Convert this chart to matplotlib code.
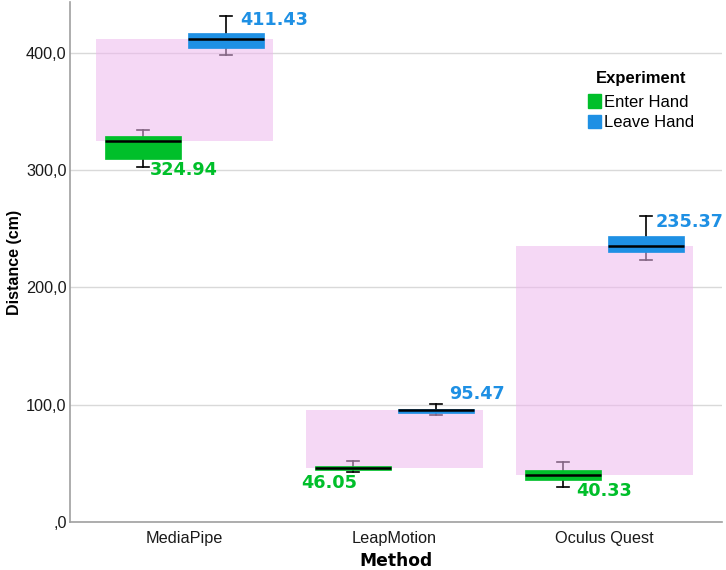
import matplotlib
matplotlib.use("Agg")
import matplotlib.pyplot as plt
from matplotlib.patches import Patch
from matplotlib.ticker import FuncFormatter

# ---- data ----
methods = ["MediaPipe", "LeapMotion", "Oculus Quest"]
experiments = ["Enter Hand", "Leave Hand"]

enter_med = [324.94, 46.05, 40.33]
enter_q1 = [308.9, 44.6, 35.8]
enter_q3 = [328.5, 48.0, 44.6]
enter_lo = [302.8, 42.6, 30.1]
enter_hi = [333.6, 52.0, 51.4]

leave_med = [411.43, 95.47, 235.37]
leave_q1 = [404.1, 93.4, 229.8]
leave_q3 = [416.9, 96.3, 244.1]
leave_lo = [397.8, 91.2, 223.0]
leave_hi = [431.0, 101.1, 261.1]

y_ticks = [0, 100, 200, 300, 400]

# ---- style ----
GREEN = "#00BF2A"
BLUE = "#1E90E4"
PINK = "#EEB8EE"

fig = plt.figure(figsize=(7.26, 5.70), dpi=100)
ax = fig.add_axes([69.5 / 726, 1 - 522.3 / 570, (722 - 69.5) / 726, (522.3 - 2) / 570])

off = 0.198
bw = 0.362

def stats(med, q1, q3, lo, hi):
    return [dict(med=m, q1=a, q3=b, whislo=l, whishi=h, fliers=[])
            for m, a, b, l, h in zip(med, q1, q3, lo, hi)]

xs = list(range(len(methods)))
pos_e = [x - off for x in xs]
pos_l = [x + off for x in xs]

common = dict(widths=bw, patch_artist=True, showfliers=False, manage_ticks=False,
              whiskerprops=dict(color="black", lw=1.2, zorder=1),
              capprops=dict(color="black", lw=1.2, zorder=1),
              medianprops=dict(color="black", lw=1.8, zorder=4))

be = ax.bxp(stats(enter_med, enter_q1, enter_q3, enter_lo, enter_hi), positions=pos_e,
            boxprops=dict(facecolor=GREEN, edgecolor=GREEN, lw=0.5, zorder=3), **common)
bl = ax.bxp(stats(leave_med, leave_q1, leave_q3, leave_lo, leave_hi), positions=pos_l,
            boxprops=dict(facecolor=BLUE, edgecolor=BLUE, lw=0.5, zorder=3), **common)
for art in be["caps"] + bl["caps"]:
    xd = art.get_xdata()
    c = (xd[0] + xd[1]) / 2
    art.set_xdata([c - 0.027, c + 0.027])

# pink band between medians
ax.bar(xs, [l - e for l, e in zip(leave_med, enter_med)], bottom=enter_med,
       width=0.84, color=PINK, alpha=0.55, zorder=2, linewidth=0)

# value labels (offsets in pixels -> points)
px = 0.72
lab_e_off = [(7, -3, "left"), (-24, -11, "center"), (13.5, -4, "left")]
lab_l_off = [(14, -4, "left"), (13, 10, "left"), (10, -6, "left")]
for i in xs:
    dx, dy, ha = lab_e_off[i]
    ax.annotate(f"{enter_med[i]:.2f}", (pos_e[i], enter_lo[i]), xytext=(dx * px, dy * px),
                textcoords="offset points", ha=ha, va="center", color=GREEN,
                fontsize=12.7, fontweight="bold", family="DejaVu Sans", zorder=5)
    dx, dy, ha = lab_l_off[i]
    ax.annotate(f"{leave_med[i]:.2f}", (pos_l[i], leave_hi[i]), xytext=(dx * px, dy * px),
                textcoords="offset points", ha=ha, va="center", color=BLUE,
                fontsize=12.7, fontweight="bold", family="DejaVu Sans", zorder=5)

ax.set_xlim(-0.548, 2.56)
ax.set_ylim(0, 443)
ax.set_yticks(y_ticks)
ax.yaxis.set_major_formatter(FuncFormatter(
    lambda v, p: ",0" if v == 0 else f"{v:.1f}".replace(".", ",")))
ax.set_xticks(xs)
ax.set_xticklabels(methods)
ax.tick_params(axis="both", length=0, labelsize=11.7, colors="#1A1A1A")
ax.tick_params(axis="x", pad=6)
ax.tick_params(axis="y", pad=2)
for lab in ax.get_xticklabels() + ax.get_yticklabels():
    lab.set_family("Liberation Sans")

ax.grid(axis="y", color="#D9D9D9", lw=1, zorder=0)
ax.set_axisbelow(True)
for s in ["top", "right"]:
    ax.spines[s].set_visible(False)
for s in ["left", "bottom"]:
    ax.spines[s].set_color("#A0A0A0")
    ax.spines[s].set_linewidth(1.2)

ax.set_xlabel("Method", fontsize=12.3, fontweight="bold", family="DejaVu Sans", labelpad=4.5)
ax.set_ylabel("Distance (cm)", fontsize=11.5, fontweight="bold", family="Liberation Sans", labelpad=3)

handles = [Patch(facecolor=GREEN, edgecolor=GREEN), Patch(facecolor=BLUE, edgecolor=BLUE)]
leg = fig.legend(handles, experiments, loc="upper left",
                 bbox_to_anchor=(588 / 726, 1 - 71 / 570), frameon=False,
                 title="Experiment", handlelength=0.8, handleheight=0.85,
                 handletextpad=0.15, labelspacing=0.3, borderpad=0, borderaxespad=0,
                 prop=dict(family="Liberation Sans", size=12),
                 title_fontproperties=dict(family="Liberation Sans", size=12, weight="bold"))
leg._legend_box.sep = 6

fig.savefig("out.png", dpi=100)
